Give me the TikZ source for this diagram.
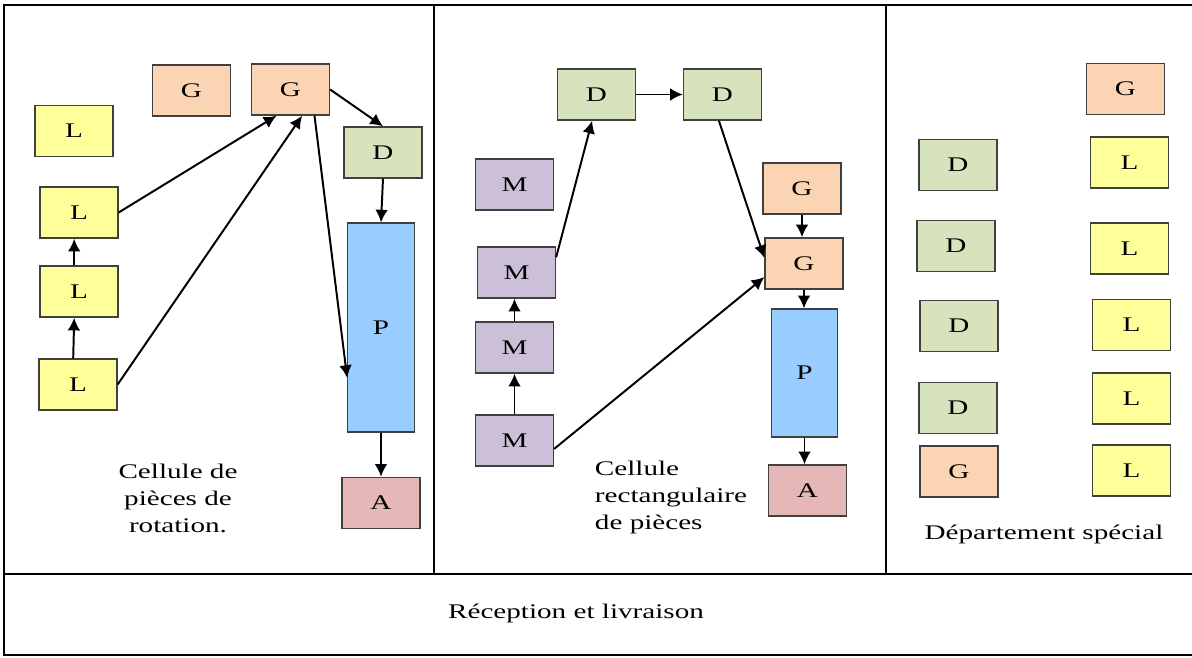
\documentclass[tikz,border=0pt]{standalone}
\usepackage{fontspec}
\newfontfamily\wide[FakeStretch=1.4]{Liberation Serif}
\usetikzlibrary{arrows.meta}
\definecolor{jauneL}{HTML}{FFFF99}
\definecolor{orangeG}{HTML}{FBD4B4}
\definecolor{vertD}{HTML}{D6E3BC}
\definecolor{violetM}{HTML}{CCC0D9}
\definecolor{bleuP}{HTML}{99CCFF}
\definecolor{rougeA}{HTML}{E5B8B7}
\tikzset{
  >={Latex[length=9pt,width=9pt]},
}
\tikzstyle{poste}=[draw=black!75,line width=.9pt,minimum width=1.95cm,minimum height=1.28cm,inner sep=0pt]
\tikzstyle{posteL}=[poste,fill=jauneL]
\tikzstyle{posteG}=[poste,fill=orangeG]
\tikzstyle{posteD}=[poste,fill=vertD]
\tikzstyle{posteM}=[poste,fill=violetM]
\tikzstyle{posteP}=[poste,fill=bleuP,minimum width=1.66cm]
\tikzstyle{posteA}=[poste,fill=rougeA]
\tikzstyle{flux}=[line width=1.4pt,->]
\tikzstyle{mur}=[line width=1.9pt]
\tikzstyle{every node}=[font=\wide\fontsize{14.8}{19.2}\selectfont]

\begin{document}
\begin{tikzpicture}[x=.025cm,y=-.025cm]
    \useasboundingbox (0,0) rectangle (1192,658);
    % cloisons
    \draw[mur] (1200,5) -- (4,5) -- (4,655) -- (1200,655);
    \draw[mur] (4,574) -- (1200,574);
    \draw[mur] (434,5) -- (434,574);
    \draw[mur] (886,5) -- (886,574);
    % cellule de pieces de rotation
    \node[posteL] (lL1) at (74,131) {L};
    \node[posteG] (lG1) at (191.5,90.5) {G};
    \node[posteG] (lG2) at (290.5,89.5) {G};
    \node[posteD] (lD) at (383,152.5) {D};
    \node[posteL] (lL2) at (79,212.5) {L};
    \node[posteL] (lL3) at (79,291.5) {L};
    \node[posteL] (lL4) at (78,384.5) {L};
    \node[posteP,minimum height=5.22cm] (lP) at (381,327.5) {P};
    \node[posteA] (lA) at (381,503) {A};
    \node[align=center] (lcell) at (178,498) {Cellule de\\pièces de\\rotation.};
    \draw[flux] ([xshift=-.12cm]lL4.north) -- ([xshift=-.12cm]lL3.south);
    \draw[flux] ([xshift=-.12cm]lL3.north) -- ([xshift=-.12cm]lL2.south);
    \draw[flux] (lL2.east) -- ([xshift=-.35cm]lG2.south);
    \draw[flux] (lL4.east) -- ([xshift=.29cm]lG2.south);
    \draw[flux] (lG2.east) -- (lD.north);
    \draw[flux] ([xshift=.6cm]lG2.south) -- ([yshift=-1.26cm]lP.west);
    \draw[flux] (lD.south) -- (lP.north);
    \draw[flux] (lP.south) -- (lA.north);
    % cellule rectangulaire
    \node[posteD] (mD1) at (596.5,94.5) {D};
    \node[posteD] (mD2) at (722.5,94.5) {D};
    \node[posteM] (mM1) at (514.5,184.5) {M};
    \node[posteM] (mM2) at (516.5,272.5) {M};
    \node[posteM] (mM3) at (514.5,347.5) {M};
    \node[posteM] (mM4) at (514.5,440.5) {M};
    \node[posteG] (mG1) at (802,188.5) {G};
    \node[posteG] (mG2) at (804,263.5) {G};
    \node[posteP,minimum height=3.2cm] (mP) at (804.5,373) {P};
    \node[posteA] (mA) at (807.5,490.5) {A};
    \node[align=left,anchor=west] (mcell) at (590,497) {Cellule\\rectangulaire\\de pièces};
    \draw[flux] (mD1.east) -- (mD2.west);
    \draw[flux] (mM4.north) -- (mM4.north |- mM3.south);
    \draw[flux] (mM3.north) -- (mM3.north |- mM2.south);
    \draw[flux] ([yshift=.38cm]mM2.east) -- ([xshift=-.11cm]mD1.south);
    \draw[flux] ([xshift=-.09cm]mD2.south) -- ([yshift=.14cm]mG2.west);
    \draw[flux] ([yshift=-.21cm]mM4.east) -- ([yshift=-.34cm]mG2.west);
    \draw[flux] (mG1.south) -- (mG1.south |- mG2.north);
    \draw[flux] (mG2.south) -- (mG2.south |- mP.north);
    \draw[flux] (mP.south) -- (mP.south |- mA.north);
    % departement special
    \node[posteG] (rG1) at (1125.5,89) {G};
    \node[posteD] (rD1) at (958,165) {D};
    \node[posteL] (rL1) at (1129.5,162.5) {L};
    \node[posteD] (rD2) at (956,246) {D};
    \node[posteL] (rL2) at (1129.5,248.5) {L};
    \node[posteD] (rD3) at (959,326) {D};
    \node[posteL] (rL3) at (1131.5,325) {L};
    \node[posteD] (rD4) at (958,408) {D};
    \node[posteL] (rL4) at (1131.5,398.5) {L};
    \node[posteG] (rG2) at (959,471.5) {G};
    \node[posteL] (rL5) at (1131.5,470.5) {L};
    \node (rdep) at (1044,534) {Département spécial};
    % reception
    \node (recep) at (576,613) {Réception et livraison};
\end{tikzpicture}
\end{document}
